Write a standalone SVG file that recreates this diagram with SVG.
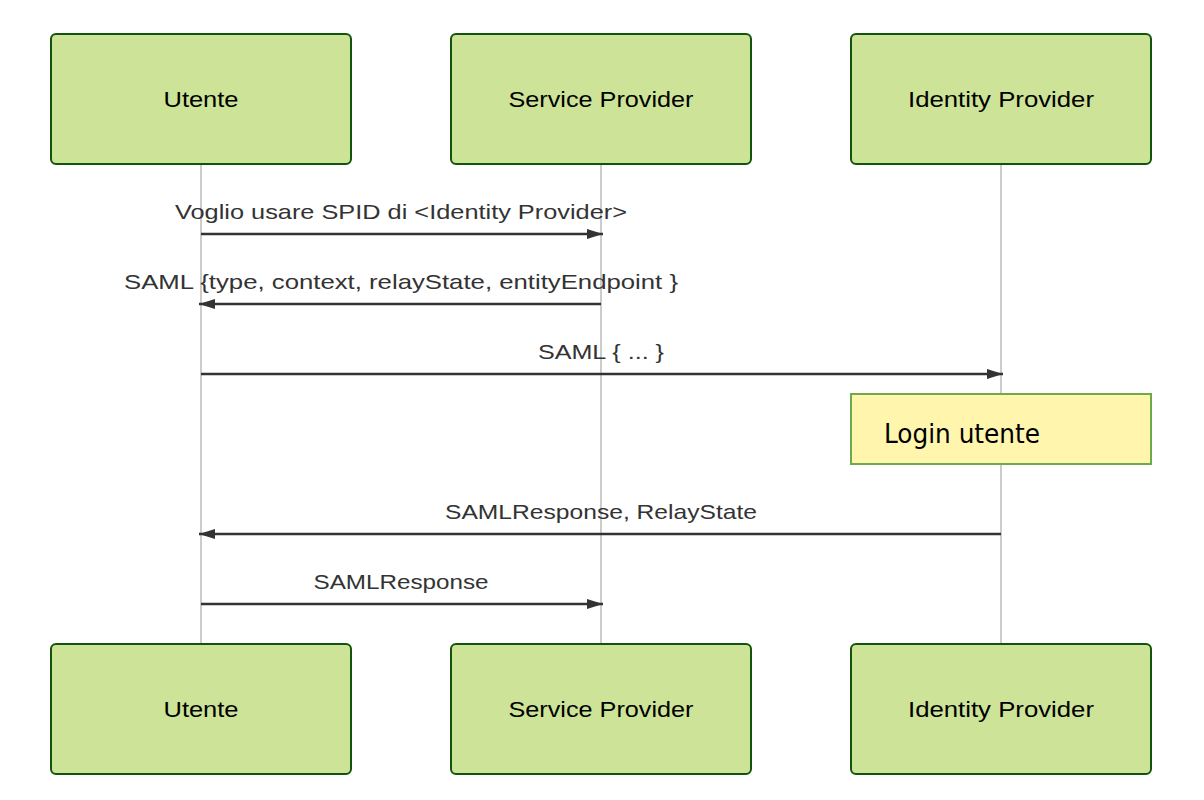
<svg xmlns="http://www.w3.org/2000/svg" width="1204" height="800" viewBox="0 0 1204 800">
<style>
.actor{fill:#cde498;stroke:#13540c;stroke-width:2}
.atext{font-family:"Liberation Sans",Arial,sans-serif;font-size:22px;fill:#000;text-anchor:middle}
.life{stroke:#bbbbbb;stroke-width:1.5}
.msg{stroke:#333;stroke-width:2.5;fill:none}
.mtext{font-family:"Liberation Sans",Arial,sans-serif;font-size:21px;fill:#333;text-anchor:middle}
.note{fill:#fff5ad;stroke:#6eaa49;stroke-width:2}
.ntext{font-family:"DejaVu Sans Condensed","DejaVu Sans",sans-serif;font-size:26px;fill:#000}
</style>
<defs>
<marker id="arrow" viewBox="0 0 16 10" refX="16" refY="5" markerWidth="16" markerHeight="10" markerUnits="userSpaceOnUse" orient="auto">
<path d="M0,0 L16,5 L0,10 z" fill="#333"/>
</marker>
</defs>
<rect width="1204" height="800" fill="#fff"/>
<g id="lifelines">
<line class="life" x1="201" y1="164" x2="201" y2="644"/>
<line class="life" x1="601" y1="164" x2="601" y2="644"/>
<line class="life" x1="1001" y1="164" x2="1001" y2="644"/>
</g>
<g id="utente-top"><rect class="actor" x="51" y="34" width="300" height="130" rx="5"/><text class="atext" x="201" y="107" textLength="75" lengthAdjust="spacingAndGlyphs">Utente</text></g>
<g id="sp-top"><rect class="actor" x="451" y="34" width="300" height="130" rx="5"/><text class="atext" x="601" y="107" textLength="185" lengthAdjust="spacingAndGlyphs">Service Provider</text></g>
<g id="idp-top"><rect class="actor" x="851" y="34" width="300" height="130" rx="5"/><text class="atext" x="1001" y="107" textLength="186" lengthAdjust="spacingAndGlyphs">Identity Provider</text></g>
<g id="utente-bottom"><rect class="actor" x="51" y="644" width="300" height="130" rx="5"/><text class="atext" x="201" y="717" textLength="75" lengthAdjust="spacingAndGlyphs">Utente</text></g>
<g id="sp-bottom"><rect class="actor" x="451" y="644" width="300" height="130" rx="5"/><text class="atext" x="601" y="717" textLength="185" lengthAdjust="spacingAndGlyphs">Service Provider</text></g>
<g id="idp-bottom"><rect class="actor" x="851" y="644" width="300" height="130" rx="5"/><text class="atext" x="1001" y="717" textLength="186" lengthAdjust="spacingAndGlyphs">Identity Provider</text></g>
<g id="note-login"><rect class="note" x="851" y="394" width="300" height="70"/><text class="ntext" x="884" y="443" textLength="156" lengthAdjust="spacingAndGlyphs">Login utente</text></g>
<g id="connectors">
<line class="msg" x1="201" y1="234" x2="603" y2="234" marker-end="url(#arrow)"/>
<text class="mtext" x="401" y="219" textLength="452" lengthAdjust="spacingAndGlyphs">Voglio usare SPID di &lt;Identity Provider&gt;</text>
<line class="msg" x1="601" y1="304" x2="199" y2="304" marker-end="url(#arrow)"/>
<text class="mtext" x="401" y="289" textLength="554" lengthAdjust="spacingAndGlyphs">SAML {type, context, relayState, entityEndpoint }</text>
<line class="msg" x1="201" y1="374" x2="1003" y2="374" marker-end="url(#arrow)"/>
<text class="mtext" x="601" y="359" textLength="126" lengthAdjust="spacingAndGlyphs">SAML { ... }</text>
<line class="msg" x1="1001" y1="534" x2="199" y2="534" marker-end="url(#arrow)"/>
<text class="mtext" x="601" y="519" textLength="312" lengthAdjust="spacingAndGlyphs">SAMLResponse, RelayState</text>
<line class="msg" x1="201" y1="604" x2="603" y2="604" marker-end="url(#arrow)"/>
<text class="mtext" x="401" y="589" textLength="175" lengthAdjust="spacingAndGlyphs">SAMLResponse</text>
</g>
</svg>
